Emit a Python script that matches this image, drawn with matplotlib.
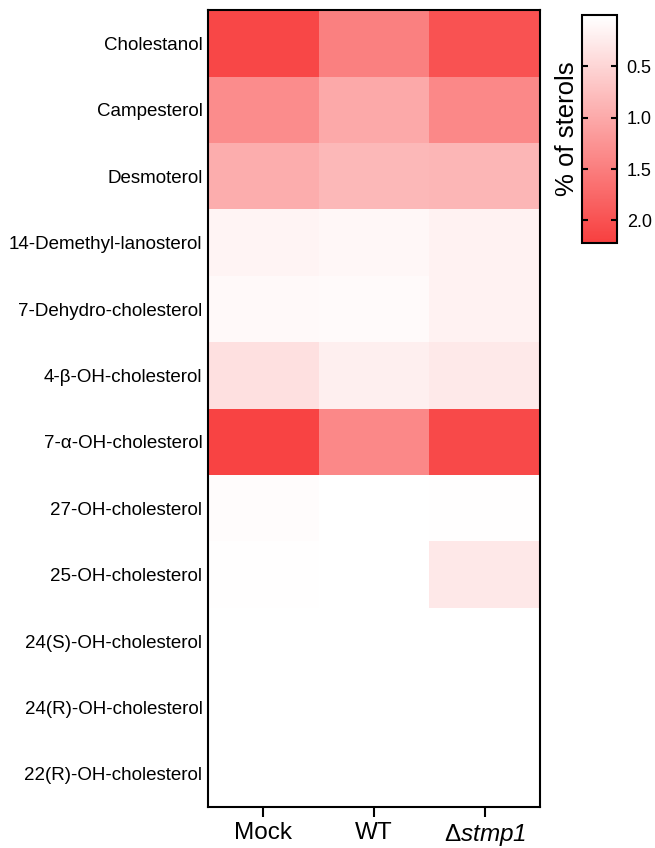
import numpy as np
import matplotlib
matplotlib.use('Agg')
from matplotlib import pyplot as plt
from matplotlib.colors import LinearSegmentedColormap

plt.rcParams['font.family'] = ['Liberation Sans', 'DejaVu Sans']
plt.rcParams['mathtext.fontset'] = 'custom'
plt.rcParams['mathtext.rm'] = 'Liberation Sans:italic'
plt.rcParams['mathtext.it'] = 'Liberation Sans:italic'
plt.rcParams['mathtext.sf'] = 'Liberation Sans'

sterols = ['Cholestanol', 'Campesterol', 'Desmoterol', '14-Demethyl-lanosterol',
           '7-Dehydro-cholesterol', '4-β-OH-cholesterol', '7-α-OH-cholesterol',
           '27-OH-cholesterol', '25-OH-cholesterol', '24(S)-OH-cholesterol',
           '24(R)-OH-cholesterol', '22(R)-OH-cholesterol']
groups = ['Mock', 'WT', r'$\mathsf{\Delta}stmp1$']

mock = [2.13, 1.34, 0.96, 0.15, 0.09, 0.38, 2.17, 0.06, 0.03, 0.01, 0.01, 0.005]
wt = [1.48, 1.01, 0.84, 0.12, 0.08, 0.20, 1.38, 0.02, 0.01, 0.005, 0.003, 0.003]
stmp1 = [2.00, 1.38, 0.85, 0.17, 0.17, 0.27, 2.10, 0.03, 0.29, 0.01, 0.005, 0.005]

data = np.array([mock, wt, stmp1]).T

cmap = LinearSegmentedColormap.from_list('wr', [(0, '#ffffff'), (0.008, '#ffffff'), (1, '#f83f3f')])

fig = plt.figure(figsize=(6.55, 8.48), dpi=100)
ax = fig.add_axes([0.3176, 0.0483, 0.5068, 0.9397])
mesh = ax.pcolormesh(data, cmap=cmap, vmin=0, vmax=2.22)
ax.set_xlim(0, 3)
ax.set_ylim(len(sterols), 0)
ax.set_xticks(np.arange(3) + 0.5)
ax.set_xticklabels(groups, fontsize=17.5)
ax.set_yticks(np.arange(len(sterols)) + 0.5)
ax.set_yticklabels(sterols, fontsize=13.5)
ax.tick_params(axis='x', direction='out', length=7, width=1.5, pad=4)
ax.tick_params(axis='y', length=0, pad=4)
for s in ax.spines.values():
    s.set_linewidth(1.5)

cax = fig.add_axes([0.8885, 0.7134, 0.0535, 0.2689])
cbar = fig.colorbar(mesh, cax=cax)
cbar.set_ticks([0.5, 1.0, 1.5, 2.0])
cbar.ax.invert_yaxis()
cbar.ax.tick_params(direction='in', length=4, width=1.5, labelsize=13, left=True, right=True, pad=7)
cbar.outline.set_linewidth(1.5)
cbar.ax.yaxis.set_label_position('left')
cbar.set_label('% of sterols', fontsize=18.5, labelpad=2)

plt.savefig('out.png', dpi=100)
